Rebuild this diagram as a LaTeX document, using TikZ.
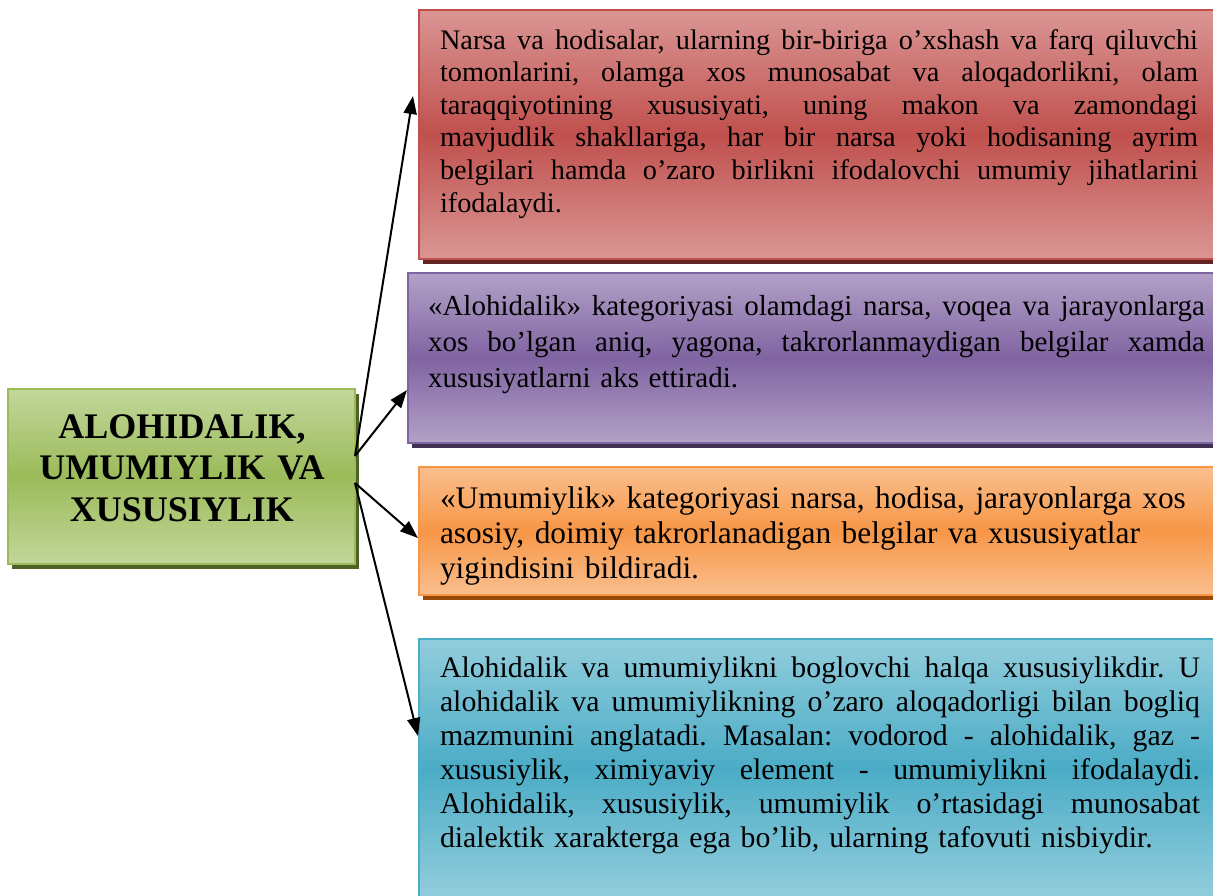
\documentclass[tikz,border=0pt]{standalone}
\usepackage{fontspec}
\setmainfont{Liberation Serif}
\usetikzlibrary{arrows.meta,shadows}
\definecolor{redA}{RGB}{218,150,148}
\definecolor{redB}{RGB}{192,80,77}
\definecolor{redS}{RGB}{99,37,35}
\definecolor{purA}{RGB}{178,161,199}
\definecolor{purB}{RGB}{128,100,162}
\definecolor{purS}{RGB}{63,49,81}
\definecolor{orA}{RGB}{250,191,143}
\definecolor{orB}{RGB}{247,150,70}
\definecolor{orS}{RGB}{152,72,7}
\definecolor{blA}{RGB}{146,205,220}
\definecolor{blB}{RGB}{75,172,198}
\definecolor{blS}{RGB}{32,88,103}
\definecolor{grA}{RGB}{194,214,155}
\definecolor{grB}{RGB}{155,187,89}
\definecolor{grS}{RGB}{79,98,40}
\newcommand{\jl}[2]{\leavevmode{\spaceskip=0.25em plus 1fil\relax\hbox to #1{#2}}}
\frenchspacing
\begin{document}
\begin{tikzpicture}[x=1pt,y=-1pt,
  panel/.style n args={3}{rectangle, anchor=north west, inner sep=0pt, outer sep=0pt,
    line width=2pt, draw=#2, top color=#1, bottom color=#1, middle color=#2,
    drop shadow={fill=#3, opacity=1, shadow xshift=4pt, shadow yshift=-5pt}},
  txt/.style={anchor=base west, inner sep=0pt, outer sep=0pt, align=left},
  arr/.style={line width=2pt, -{Triangle[length=18pt,width=13pt]}}]
\useasboundingbox (0,0) rectangle (1213,895);
\clip (0,0) rectangle (1213,895);

% boxes
\node[panel={grA}{grB}{grS}, minimum width=347pt, minimum height=175pt] (green) at (8,389) {};
\node[panel={redA}{redB}{redS}, minimum width=820pt, minimum height=249pt] (red) at (419,10) {};
\node[panel={purA}{purB}{purS}, minimum width=830pt, minimum height=170pt] (purple) at (408,273) {};
\node[panel={orA}{orB}{orS}, minimum width=820pt, minimum height=128pt] (orange) at (419,467) {};
\node[panel={blA}{blB}{blS}, minimum width=820pt, minimum height=258pt] (blue) at (419,639) {};

% texts
\node[anchor=base, inner sep=0pt, text width=340pt, align=center,
  font=\fontsize{36}{41.7}\selectfont\bfseries] (gtext) at (182,438)
  {ALOHIDALIK,\\UMUMIYLIK VA\\XUSUSIYLIK};

\node[txt, text width=760pt, font=\fontsize{28.3}{32.6}\selectfont] (rtext) at (440,49) {%
\jl{758pt}{Narsa va hodisalar, ularning bir-biriga o’xshash va farq qiluvchi}\\
\jl{758pt}{tomonlarini, olamga xos munosabat va aloqadorlikni, olam}\\
\jl{758pt}{taraqqiyotining xususiyati, uning makon va zamondagi}\\
\jl{758pt}{mavjudlik shakllariga, har bir narsa yoki hodisaning ayrim}\\
\jl{758pt}{belgilari hamda o’zaro birlikni ifodalovchi umumiy jihatlarini}\\
ifodalaydi.};

\node[txt, text width=777pt, font=\fontsize{29}{36}\selectfont] (ptext) at (428,315) {%
\jl{777pt}{«Alohidalik» kategoriyasi olamdagi narsa, voqea va jarayonlarga}\\
\jl{777pt}{xos bo’lgan aniq, yagona, takrorlanmaydigan belgilar xamda}\\
xususiyatlarni aks ettiradi.};

\begin{scope}
\clip (419,467) rectangle (1213,585);
\node[txt, text width=770pt, font=\fontsize{31.4}{35}\selectfont] (otext) at (440,508) {%
«Umumiylik» kategoriyasi narsa, hodisa, jarayonlarga xos\\
asosiy, doimiy takrorlanadigan belgilar va xususiyatlar\\
yigindisini bildiradi.};
\end{scope}

\node[txt, text width=760pt, font=\fontsize{29.8}{34}\selectfont] (btext) at (440,677) {%
\jl{760pt}{Alohidalik va umumiylikni boglovchi halqa xususiylikdir. U}\\
\jl{760pt}{alohidalik va umumiylikning o’zaro aloqadorligi bilan bogliq}\\
\jl{760pt}{mazmunini anglatadi. Masalan: vodorod - alohidalik, gaz -}\\
\jl{760pt}{xususiylik, ximiyaviy element - umumiylikni ifodalaydi.}\\
\jl{760pt}{Alohidalik, xususiylik, umumiylik o’rtasidagi munosabat}\\
dialektik xarakterga ega bo’lib, ularning tafovuti nisbiydir.};

% connectors
\draw[arr] ([yshift=20.5pt]green.east) -- ([xshift=-6pt,yshift=38.5pt]red.west);
\draw[arr] ([yshift=20.5pt]green.east) -- ([xshift=-1pt,yshift=-32pt]purple.west);
\draw[arr] ([yshift=-6.5pt]green.east) -- ([xshift=-1pt,yshift=-7pt]orange.west);
\draw[arr] ([yshift=-6.5pt]green.east) -- ([xshift=-1pt,yshift=32pt]blue.west);
\end{tikzpicture}
\end{document}
